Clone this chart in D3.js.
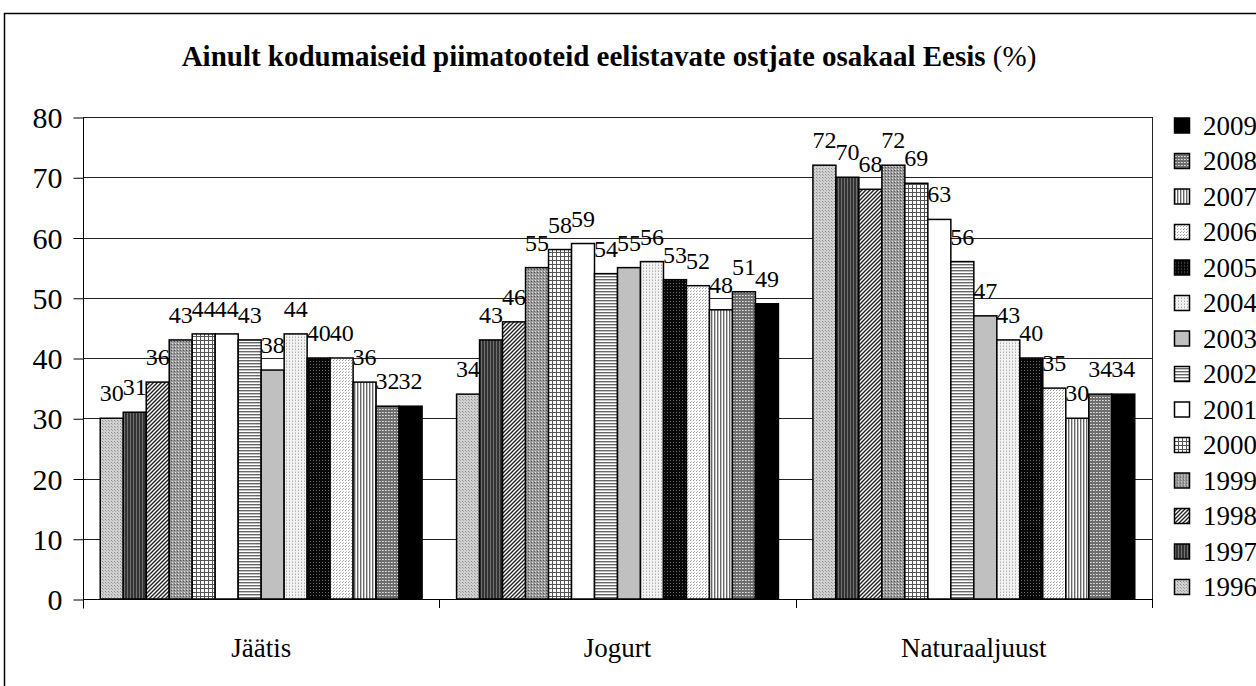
<!DOCTYPE html>
<html>
<head>
<meta charset="utf-8">
<script src="https://cdn.jsdelivr.net/npm/d3@7"></script>
<style>
  body { margin: 0; background: #fff; }
</style>
</head>
<body>
<script>
var categories = ['Jäätis', 'Jogurt', 'Naturaaljuust'];
var years = ['1996', '1997', '1998', '1999', '2000', '2001', '2002',
             '2003', '2004', '2005', '2006', '2007', '2008', '2009'];
// values per year, in category order
var jaatis = [30, 31, 36, 43, 44, 44, 43, 38, 44, 40, 40, 36, 32, 32];
var jogurt = [34, 43, 46, 55, 58, 59, 54, 55, 56, 53, 52, 48, 51, 49];
var naturaaljuust = [72, 70, 68, 72, 69, 63, 56, 47, 43, 40, 35, 30, 34, 34];
var yTicks = [0, 10, 20, 30, 40, 50, 60, 70, 80];

var width = 1256, height = 686;
var plotL = 83, plotR = 1152, plotT = 117, plotB = 599;
var serif = "'Liberation Serif', 'Times New Roman', Times, serif";

var rows = [];
[jaatis, jogurt, naturaaljuust].forEach(function(vals, ci) {
  vals.forEach(function(v, yi) {
    rows.push({cat: categories[ci], year: years[yi], value: v});
  });
});

var svg = d3.select('body').append('svg')
    .attr('width', width)
    .attr('height', height);

// 填充图案
var defs = svg.append('defs');
function pat(id, w, h, bg, draw) {
  var p = defs.append('pattern')
      .attr('id', id)
      .attr('patternUnits', 'userSpaceOnUse')
      .attr('width', w).attr('height', h);
  p.append('rect').attr('width', w).attr('height', h).attr('fill', bg);
  draw(p);
}
function px(p, x, y, c) {
  p.append('rect').attr('x', x).attr('y', y).attr('width', 1).attr('height', 1).attr('fill', c);
}
pat('p1996', 3, 3, '#d0d0d0', function(p) { px(p, 0, 0, '#909090'); px(p, 1, 1, '#a8a8a8'); });
pat('p1997', 3, 3, '#333', function(p) {
  p.append('rect').attr('x', 1).attr('width', 1).attr('height', 3).attr('fill', '#707070');
});
pat('p1998', 4, 4, '#fff', function(p) {
  p.append('path').attr('d', 'M0,4L4,0M-1,1L1,-1M3,5L5,3').attr('stroke', '#222').attr('stroke-width', 1.4);
});
pat('p1999', 3, 3, '#9a9a9a', function(p) { px(p, 1, 1, '#e0e0e0'); px(p, 0, 2, '#555'); });
pat('p2000', 4, 4, '#fff', function(p) {
  p.append('rect').attr('width', 4).attr('height', 1).attr('fill', '#555');
  p.append('rect').attr('width', 1).attr('height', 4).attr('fill', '#555');
});
pat('p2001', 2, 2, '#fff', function(p) {});
pat('p2002', 3, 3, '#fff', function(p) {
  p.append('rect').attr('width', 3).attr('height', 1.4).attr('fill', '#666');
});
pat('p2003', 2, 2, '#c0c0c0', function(p) {});
pat('p2004', 3, 3, '#f2f2f2', function(p) { px(p, 1, 1, '#b0b0b0'); px(p, 1, 0, '#d0d0d0'); });
pat('p2005', 3, 3, '#080808', function(p) { px(p, 1, 1, '#6a6a6a'); });
pat('p2006', 3, 3, '#fff', function(p) { px(p, 0, 0, '#999'); px(p, 1, 2, '#bbb'); });
pat('p2007', 3, 3, '#fff', function(p) {
  p.append('rect').attr('width', 1.4).attr('height', 3).attr('fill', '#666');
});
pat('p2008', 3, 3, '#6e6e6e', function(p) { px(p, 1, 1, '#e0e0e0'); px(p, 2, 1, '#bbb'); });
pat('p2009', 2, 2, '#000', function(p) {});

// 外框
svg.append('rect')
    .attr('x', 4.5).attr('y', 13.5)
    .attr('width', 1400).attr('height', 800)
    .attr('fill', 'none')
    .attr('stroke', '#000')
    .attr('stroke-width', 1.5);

svg.append('text')
    .attr('x', 609).attr('y', 66)
    .attr('text-anchor', 'middle')
    .style('font-family', serif)
    .style('font-size', '29px')
    .call(function(t) {
      t.append('tspan').attr('font-weight', 'bold')
        .text('Ainult kodumaiseid piimatooteid eelistavate ostjate osakaal Eesis');
      t.append('tspan').text(' (%)');
    });

var x0 = d3.scaleBand().domain(categories).range([plotL, plotR]);
var gap = x0.bandwidth() / (years.length + 1.5) * 1.5;
var x1 = d3.scaleBand().domain(years).range([gap / 2, x0.bandwidth() - gap / 2]);
var y = d3.scaleLinear().domain([0, 80]).range([plotB, plotT]);

// 网格线
svg.append('g')
  .selectAll('line')
  .data(yTicks.slice(1))
  .enter().append('line')
    .attr('x1', plotL).attr('x2', plotR)
    .attr('y1', function(d) { return Math.round(y(d)) + 0.5; })
    .attr('y2', function(d) { return Math.round(y(d)) + 0.5; })
    .attr('stroke', '#222');
svg.append('line')
    .attr('x1', plotR + 0.5).attr('x2', plotR + 0.5)
    .attr('y1', plotT).attr('y2', plotB)
    .attr('stroke', '#222');

// y axis
var yAxis = svg.append('g')
    .attr('transform', 'translate(' + (plotL + 0.5) + ',0.5)')
    .call(d3.axisLeft(y).tickValues(yTicks).tickSize(10).tickPadding(11));
yAxis.attr('font-family', null).attr('font-size', null);
yAxis.select('.domain').remove();
yAxis.append('line').attr('y1', plotT).attr('y2', plotB + 9).attr('stroke', '#000');
yAxis.selectAll('.tick line').attr('stroke', '#000');
yAxis.selectAll('.tick text')
    .style('font-family', serif)
    .style('font-size', '30px')
    .attr('fill', '#000')
    .attr('dy', '0.34em');

// x axis
var xAxis = svg.append('g');
xAxis.append('line')
    .attr('x1', plotL).attr('x2', plotR + 1)
    .attr('y1', plotB + 0.5).attr('y2', plotB + 0.5)
    .attr('stroke', '#000');
xAxis.selectAll('.bt')
  .data(categories)
  .enter().append('line')
    .attr('x1', function(d) { return Math.round(x0(d) + x0.bandwidth()) + 0.5; })
    .attr('x2', function(d) { return Math.round(x0(d) + x0.bandwidth()) + 0.5; })
    .attr('y1', plotB).attr('y2', plotB + 9)
    .attr('stroke', '#000');
xAxis.selectAll('text')
  .data(categories)
  .enter().append('text')
    .attr('x', function(d) { return x0(d) + x0.bandwidth() / 2; })
    .attr('y', 657)
    .attr('text-anchor', 'middle')
    .style('font-family', serif)
    .style('font-size', '27px')
    .text(function(d) { return d; });

// bars
var bars = svg.append('g');
bars.selectAll('rect')
  .data(rows)
  .enter().append('rect')
    .attr('x', function(d) { return x0(d.cat) + x1(d.year); })
    .attr('y', function(d) { return y(d.value); })
    .attr('width', x1.bandwidth())
    .attr('height', function(d) { return y(0) - y(d.value); })
    .attr('fill', function(d) { return 'url(#p' + d.year + ')'; })
    .attr('stroke', '#000')
    .attr('stroke-width', 1.5);

bars.selectAll('text')
  .data(rows)
  .enter().append('text')
    .attr('x', function(d) { return x0(d.cat) + x1(d.year) + x1.bandwidth() / 2; })
    .attr('y', function(d) { return y(d.value) - 17; })
    .attr('text-anchor', 'middle')
    .style('font-family', serif)
    .style('font-size', '24px')
    .text(function(d) { return d.value; });

// legend
var legend = svg.append('g');
var item = legend.selectAll('g')
  .data(years.slice().reverse())
  .enter().append('g')
    .attr('transform', function(d, i) { return 'translate(1174,' + (125.5 + i * 35.5) + ')'; });
item.append('rect')
    .attr('x', 0.5).attr('y', -7.5)
    .attr('width', 15).attr('height', 15)
    .attr('fill', function(d) { return 'url(#p' + d + ')'; })
    .attr('stroke', '#000')
    .attr('stroke-width', 1.5);
item.append('text')
    .attr('x', 29).attr('y', 9)
    .style('font-family', serif)
    .style('font-size', '27px')
    .text(function(d) { return d; });
</script>
</body>
</html>
